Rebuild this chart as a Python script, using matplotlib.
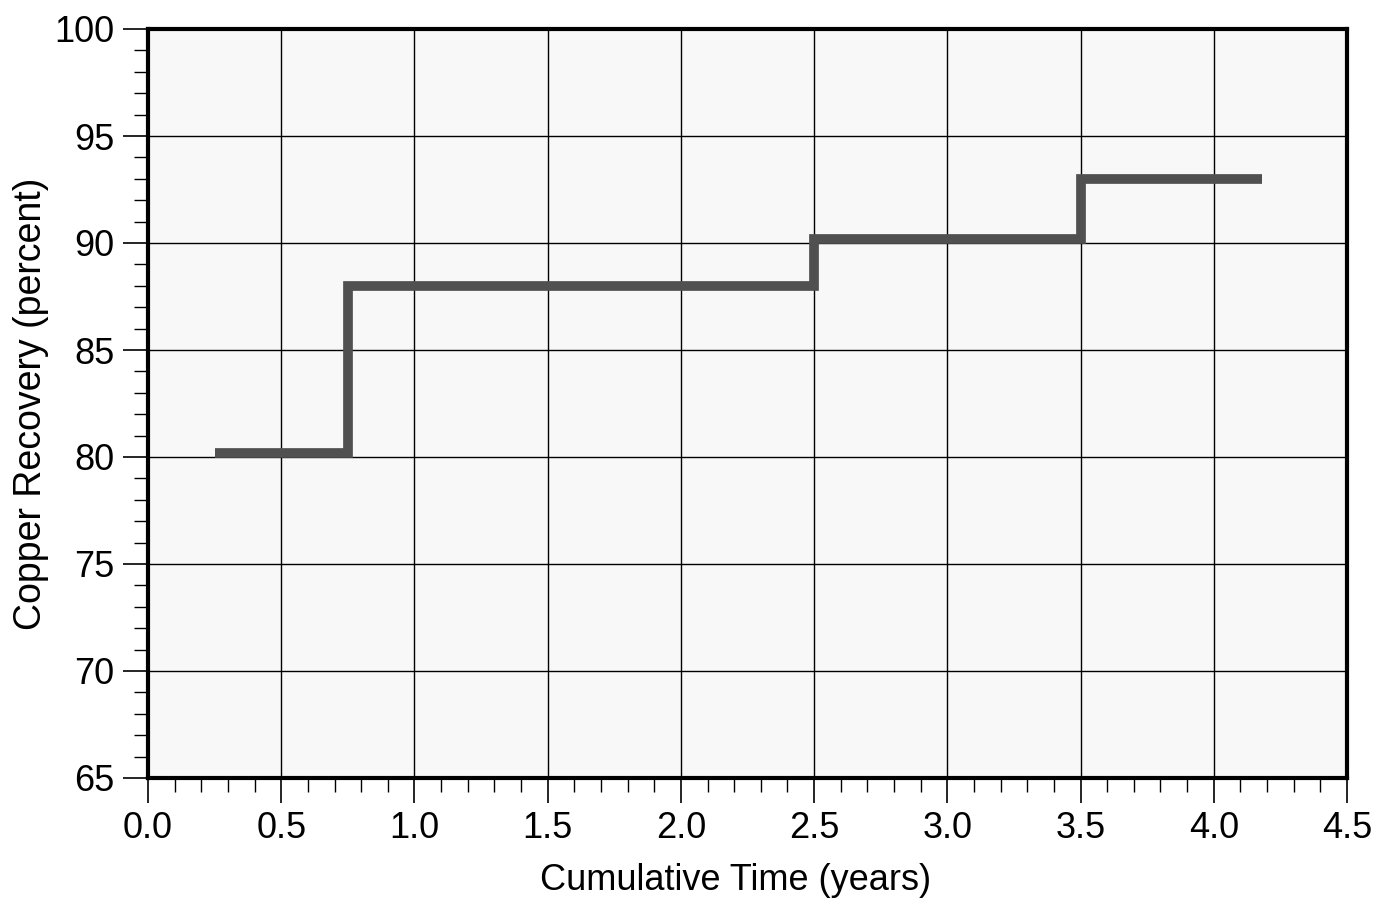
import matplotlib
matplotlib.use("Agg")
import matplotlib.pyplot as plt
from matplotlib.ticker import MultipleLocator

# step levels: each level holds from its start time to the next one
t_edges = [0.25, 0.75, 2.5, 3.5, 4.18]
recovery = [80.2, 88.0, 90.2, 93.0]

plt.rcParams.update({
    "font.family": ["Liberation Sans", "DejaVu Sans"],
    "font.size": 22,
})

fig = plt.figure(figsize=(13.82, 9.11), dpi=100)
ax = fig.add_axes([148 / 1382, 1 - 778 / 911, 1199 / 1382, 749 / 911])
ax.set_facecolor("#f8f8f8")

xs = []
ys = []
for i, r in enumerate(recovery):
    xs += [t_edges[i], t_edges[i + 1]]
    ys += [r, r]
ax.plot(xs, ys, color="#505050", lw=7, solid_joinstyle="miter",
        solid_capstyle="butt", zorder=3)

ax.set_xlim(0, 4.5)
ax.set_ylim(65, 100)
ax.xaxis.set_major_locator(MultipleLocator(0.5))
ax.xaxis.set_minor_locator(MultipleLocator(0.1))
ax.yaxis.set_major_locator(MultipleLocator(5))
ax.yaxis.set_minor_locator(MultipleLocator(1))
ax.xaxis.set_major_formatter(lambda v, p: f"{v:.1f}")
ax.yaxis.set_major_formatter(lambda v, p: f"{v:.0f}")
ax.tick_params(which="major", direction="out", length=18, width=1.2,
               labelsize=26, pad=6)
ax.tick_params(which="minor", direction="out", length=10, width=1.0)
ax.grid(True, which="major", color="black", lw=1.0, zorder=1)
for s in ax.spines.values():
    s.set_linewidth(3)

ax.set_xlabel("Cumulative Time (years)", fontsize=26, labelpad=12)
ax.xaxis.label.set_x(0.49)
ax.set_ylabel("Copper Recovery (percent)", fontsize=27, labelpad=4)

fig.savefig("out.png", dpi=100)
